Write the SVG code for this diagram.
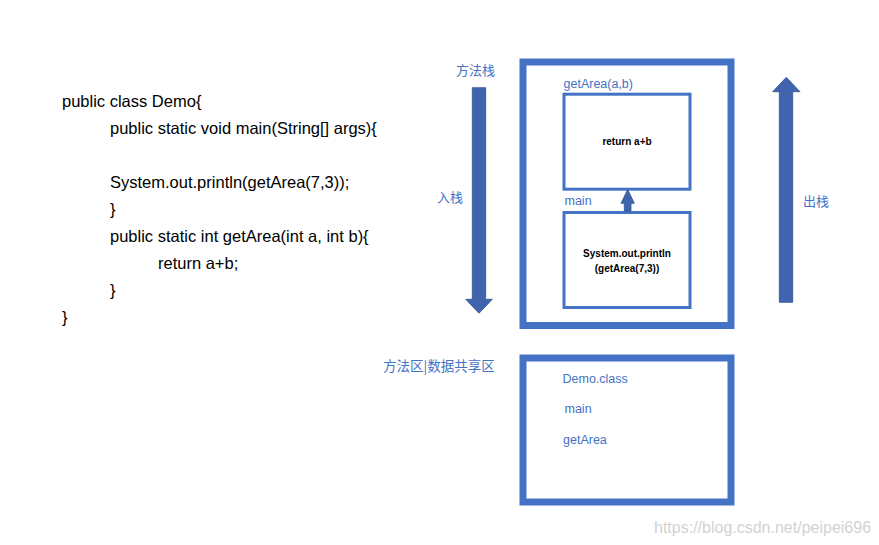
<svg xmlns="http://www.w3.org/2000/svg" width="879" height="545" viewBox="0 0 879 545">
<style>
.code{font-family:"Liberation Sans",Arial,sans-serif;font-size:16.5px;fill:#000}
.lbl{font-family:"Liberation Sans",Arial,"Noto Sans CJK SC",sans-serif;font-size:12.5px;fill:#4472C4}
.cjk{font-family:"Noto Sans CJK SC",sans-serif;font-size:13px;fill:#4472C4}
.bold{font-family:"Liberation Sans",Arial,sans-serif;font-size:10px;font-weight:bold;fill:#000}
.box{fill:#fff;stroke:#4472C4}
.arrow{fill:#4064AE;stroke:#2F528F;stroke-width:0.8}
.wm{font-family:"Liberation Sans",Arial,sans-serif;font-size:16px;fill:#d2d2d2}
</style>
<rect width="879" height="545" fill="#fff"/>
<g id="code">
<text class="code" x="62" y="107">public class Demo{</text>
<text class="code" x="110" y="134">public static void main(String[] args){</text>
<text class="code" x="110" y="188">System.out.println(getArea(7,3));</text>
<text class="code" x="110" y="215">}</text>
<text class="code" x="110" y="242">public static int getArea(int a, int b){</text>
<text class="code" x="158" y="269">return a+b;</text>
<text class="code" x="110" y="296">}</text>
<text class="code" x="62" y="323">}</text>
</g>
<g id="stack">
<rect class="box" x="523" y="62" width="208" height="263.5" stroke-width="7"/>
<text class="cjk" x="456" y="75">方法栈</text>
</g>
<g id="getArea-frame">
<rect class="box" x="564" y="94.2" width="126" height="95" stroke-width="3"/>
<text class="lbl" x="563.5" y="87.5">getArea(a,b)</text>
<text class="bold" x="627" y="145" text-anchor="middle">return a+b</text>
</g>
<g id="main-frame">
<rect class="box" x="564" y="212.5" width="126" height="95" stroke-width="3"/>
<text class="lbl" x="564.5" y="205">main</text>
<text class="bold" x="627" y="257" text-anchor="middle">System.out.println</text>
<text class="bold" x="627" y="272" text-anchor="middle">(getArea(7,3))</text>
</g>
<g id="method-area">
<rect class="box" x="523" y="358" width="208" height="144" stroke-width="7"/>
<text class="cjk" x="383" y="371" style="font-size:13.5px">方法区|数据共享区</text>
<text class="lbl" x="562.5" y="383">Demo.class</text>
<text class="lbl" x="564.5" y="413">main</text>
<text class="lbl" x="563" y="444">getArea</text>
</g>
<g id="connectors">
<polygon class="arrow" points="472.3,87.7 485.7,87.7 485.7,299.3 492.3,299.3 479,313.3 465.7,299.3 472.3,299.3"/>
<polygon class="arrow" points="779.3,302.3 792.7,302.3 792.7,91.7 800,91.7 786.3,77.3 772.7,91.7 779.3,91.7"/>
<polygon class="arrow" points="624.3,211 631,211 631,203.3 634.3,203.3 627.7,189.5 621,203.3 624.3,203.3"/>
<text class="cjk" x="437" y="202">入栈</text>
<text class="cjk" x="803" y="206">出栈</text>
</g>
<text class="wm" x="654" y="533">https://blog.csdn.net/peipei696</text>
</svg>
